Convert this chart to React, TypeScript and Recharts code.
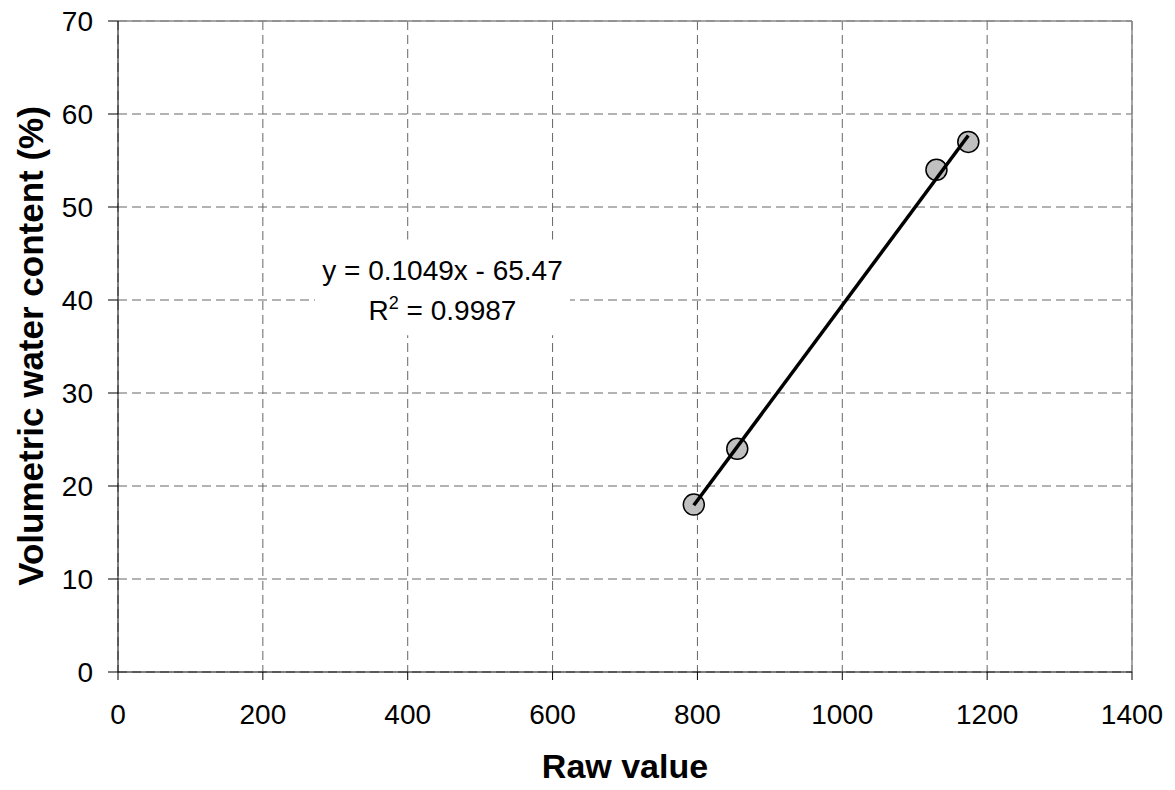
import {
  ScatterChart,
  Scatter,
  XAxis,
  YAxis,
  CartesianGrid,
  ReferenceLine,
  ReferenceArea,
} from "recharts";

// calibration points
const rawValues = [795, 855, 1130, 1174];
const waterContent = [18, 24, 54, 57];

// linear trendline y = 0.1049x - 65.47, drawn over the data range
const trendX = [795, 1174];
const trendY = [17.93, 57.68];

const xTicks = [0, 200, 400, 600, 800, 1000, 1200, 1400];
const yTicks = [0, 10, 20, 30, 40, 50, 60, 70];

const FONT = '"Liberation Sans", Arial, Helvetica, sans-serif';

const points = rawValues.map((x, i) => ({ x, y: waterContent[i] }));
const trend = trendX.map((x, i) => ({ x, y: trendY[i] }));

const EquationLabel = (props: any) => {
  const vb = props.viewBox || {};
  const cx = vb.x + vb.width / 2;
  const cy = vb.y + vb.height / 2;
  return (
    <g fontFamily={FONT} fontSize={28} fill="#000">
      <text x={cx} y={cy - 7} textAnchor="middle">
        y = 0.1049x - 65.47
      </text>
      <text x={cx} y={cy + 33} textAnchor="middle">
        R
        <tspan fontSize={18} dy={-11}>
          2
        </tspan>
        <tspan dy={11}> = 0.9987</tspan>
      </text>
    </g>
  );
};

const App = () => {
  return (
    <div style={{ margin: -8, fontFamily: FONT }}>
      <ScatterChart
        width={1175}
        height={790}
        margin={{ top: 21, right: 43, bottom: 0, left: 0 }}
        style={{ background: "#fff" }}
      >
        <CartesianGrid stroke="#666" strokeDasharray="9 5" strokeWidth={1} />
        <XAxis
          type="number"
          dataKey="x"
          domain={[0, 1400]}
          ticks={xTicks}
          height={118}
          tickSize={8}
          tickMargin={24}
          stroke="#000"
          tickLine={{ stroke: "#000" }}
          tick={{ fill: "#000", fontSize: 28, fontFamily: FONT }}
          label={{
            content: () => (
              <text
                x={625}
                y={778}
                textAnchor="middle"
                fontFamily={FONT}
                fontSize={34}
                fontWeight="bold"
                fill="#000"
              >
                Raw value
              </text>
            ),
          }}
        />
        <YAxis
          type="number"
          dataKey="y"
          domain={[0, 70]}
          ticks={yTicks}
          width={118}
          tickSize={10}
          tickMargin={15}
          stroke="#000"
          tickLine={{ stroke: "#000" }}
          tick={{ fill: "#000", fontSize: 28, fontFamily: FONT }}
          label={{
            content: () => (
              <text
                x={43}
                y={346}
                transform="rotate(-90, 43, 346)"
                textAnchor="middle"
                fontFamily={FONT}
                fontSize={35}
                fontWeight="bold"
                fill="#000"
              >
                Volumetric water content (%)
              </text>
            ),
          }}
        />
        <ReferenceLine y={70} stroke="#888" strokeWidth={1.5} />
        <ReferenceLine x={1400} stroke="#888" strokeWidth={1.5} />
        <ReferenceArea
          x1={272}
          x2={624}
          y1={36.2}
          y2={46.5}
          fill="#fff"
          fillOpacity={1}
          stroke="none"
          label={<EquationLabel />}
        />
        <Scatter
          data={points}
          isAnimationActive={false}
          shape={(p: any) => (
            <circle
              cx={p.cx}
              cy={p.cy}
              r={10.5}
              fill="#c0c0c0"
              stroke="#000"
              strokeWidth={1.5}
            />
          )}
        />
        <Scatter
          data={trend}
          isAnimationActive={false}
          line={{ stroke: "#000", strokeWidth: 3.5 }}
          shape={() => <g />}
        />
      </ScatterChart>
    </div>
  );
};

export default App;
